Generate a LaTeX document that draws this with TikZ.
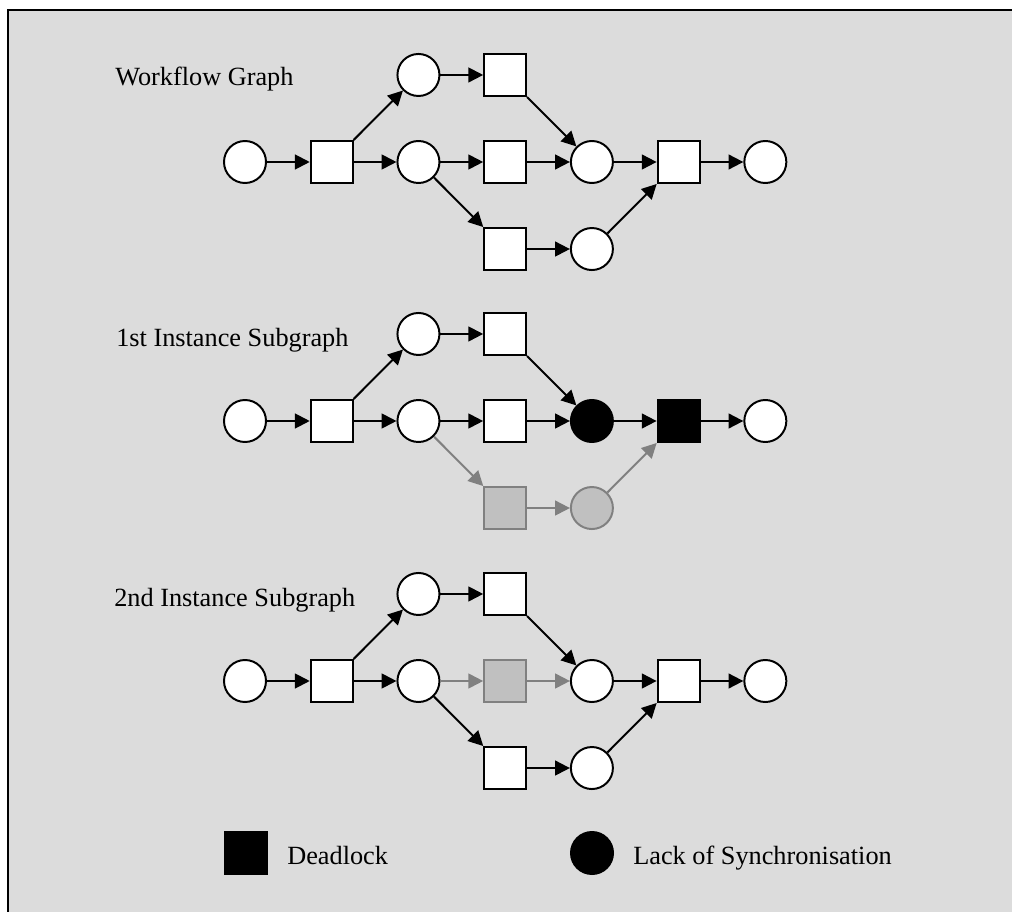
\documentclass[tikz,border=0pt]{standalone}
\usepackage{fontspec}
\setmainfont{Liberation Serif}
\usetikzlibrary{arrows.meta, positioning}

\definecolor{panelgray}{HTML}{DCDCDC}
\definecolor{offline}{HTML}{808080}
\definecolor{offfill}{HTML}{C0C0C0}

\begin{document}
\begin{tikzpicture}[
		x=0.025cm, y=-0.025cm,
		node distance=2.175cm and 2.1675cm, on grid,
		place/.style={circle, draw, fill=white, line width=1.4pt, minimum size=1.05cm, inner sep=0pt},
		trans/.style={rectangle, draw, fill=white, line width=1.4pt, minimum size=1.05cm, inner sep=0pt},
		off/.style={draw=offline, fill=offfill},
		hit/.style={fill=black},
		arrow/.style={-{Triangle[length=0.37cm, width=0.37cm]}, line width=1.4pt},
		offarrow/.style={arrow, draw=offline},
		caption/.style={anchor=base west, inner sep=0pt, font=\fontsize{18.7}{22}\selectfont}
	]

		% Frame
		\useasboundingbox (0,0) rectangle (1012,912);
		\draw[fill=panelgray, line width=1.4pt] (8,10) rectangle (1030,930);

		% Workflow graph
		\node[caption] (wLabel) at (115,86) {Workflow Graph};
		\node[place] (wP0) at (245,162) {};
		\node[trans, right=of wP0] (wT0) {};
		\node[place, above right=of wT0] (wP1) {};
		\node[trans, right=of wP1] (wT1) {};
		\node[place, right=of wT0] (wP2) {};
		\node[trans, right=of wP2] (wT2) {};
		\node[place, right=of wT2] (wP3) {};
		\node[trans, below right=of wP2] (wT3) {};
		\node[place, right=of wT3] (wP4) {};
		\node[trans, right=of wP3] (wT4) {};
		\node[place, right=of wT4] (wP5) {};

		\draw[arrow] (wP0) -- (wT0);
		\draw[arrow] (wT0) -- (wP1);
		\draw[arrow] (wT0) -- (wP2);
		\draw[arrow] (wP1) -- (wT1);
		\draw[arrow] (wT1) -- (wP3);
		\draw[arrow] (wP2) -- (wT2);
		\draw[arrow] (wT2) -- (wP3);
		\draw[arrow] (wP2) -- (wT3);
		\draw[arrow] (wT3) -- (wP4);
		\draw[arrow] (wP4) -- (wT4);
		\draw[arrow] (wP3) -- (wT4);
		\draw[arrow] (wT4) -- (wP5);

		% 1st instance subgraph
		\node[caption] (fLabel) at (116,346) {1st Instance Subgraph};
		\node[place] (fP0) at (245,421) {};
		\node[trans, right=of fP0] (fT0) {};
		\node[place, above right=of fT0] (fP1) {};
		\node[trans, right=of fP1] (fT1) {};
		\node[place, right=of fT0] (fP2) {};
		\node[trans, right=of fP2] (fT2) {};
		\node[place, hit, right=of fT2] (fP3) {};
		\node[trans, off, below right=of fP2] (fT3) {};
		\node[place, off, right=of fT3] (fP4) {};
		\node[trans, hit, right=of fP3] (fT4) {};
		\node[place, right=of fT4] (fP5) {};

		\draw[arrow] (fP0) -- (fT0);
		\draw[arrow] (fT0) -- (fP1);
		\draw[arrow] (fT0) -- (fP2);
		\draw[arrow] (fP1) -- (fT1);
		\draw[arrow] (fT1) -- (fP3);
		\draw[arrow] (fP2) -- (fT2);
		\draw[arrow] (fT2) -- (fP3);
		\draw[offarrow] (fP2) -- (fT3);
		\draw[offarrow] (fT3) -- (fP4);
		\draw[offarrow] (fP4) -- (fT4);
		\draw[arrow] (fP3) -- (fT4);
		\draw[arrow] (fT4) -- (fP5);

		% 2nd instance subgraph
		\node[caption] (sLabel) at (114,606) {2nd Instance Subgraph};
		\node[place] (sP0) at (245,681) {};
		\node[trans, right=of sP0] (sT0) {};
		\node[place, above right=of sT0] (sP1) {};
		\node[trans, right=of sP1] (sT1) {};
		\node[place, right=of sT0] (sP2) {};
		\node[trans, off, right=of sP2] (sT2) {};
		\node[place, right=of sT2] (sP3) {};
		\node[trans, below right=of sP2] (sT3) {};
		\node[place, right=of sT3] (sP4) {};
		\node[trans, right=of sP3] (sT4) {};
		\node[place, right=of sT4] (sP5) {};

		\draw[arrow] (sP0) -- (sT0);
		\draw[arrow] (sT0) -- (sP1);
		\draw[arrow] (sT0) -- (sP2);
		\draw[arrow] (sP1) -- (sT1);
		\draw[arrow] (sT1) -- (sP3);
		\draw[offarrow] (sP2) -- (sT2);
		\draw[offarrow] (sT2) -- (sP3);
		\draw[arrow] (sP2) -- (sT3);
		\draw[arrow] (sT3) -- (sP4);
		\draw[arrow] (sP4) -- (sT4);
		\draw[arrow] (sP3) -- (sT4);
		\draw[arrow] (sT4) -- (sP5);

		% Legend
		\node[trans, hit] (keyBox) at (246,853) {};
		\node[caption] (keyBoxText) at (287,864) {Deadlock};
		\node[place, hit] (keyDot) at (592,853) {};
		\node[caption] (keyDotText) at (633,864) {Lack of Synchronisation};

	\end{tikzpicture}
\end{document}
